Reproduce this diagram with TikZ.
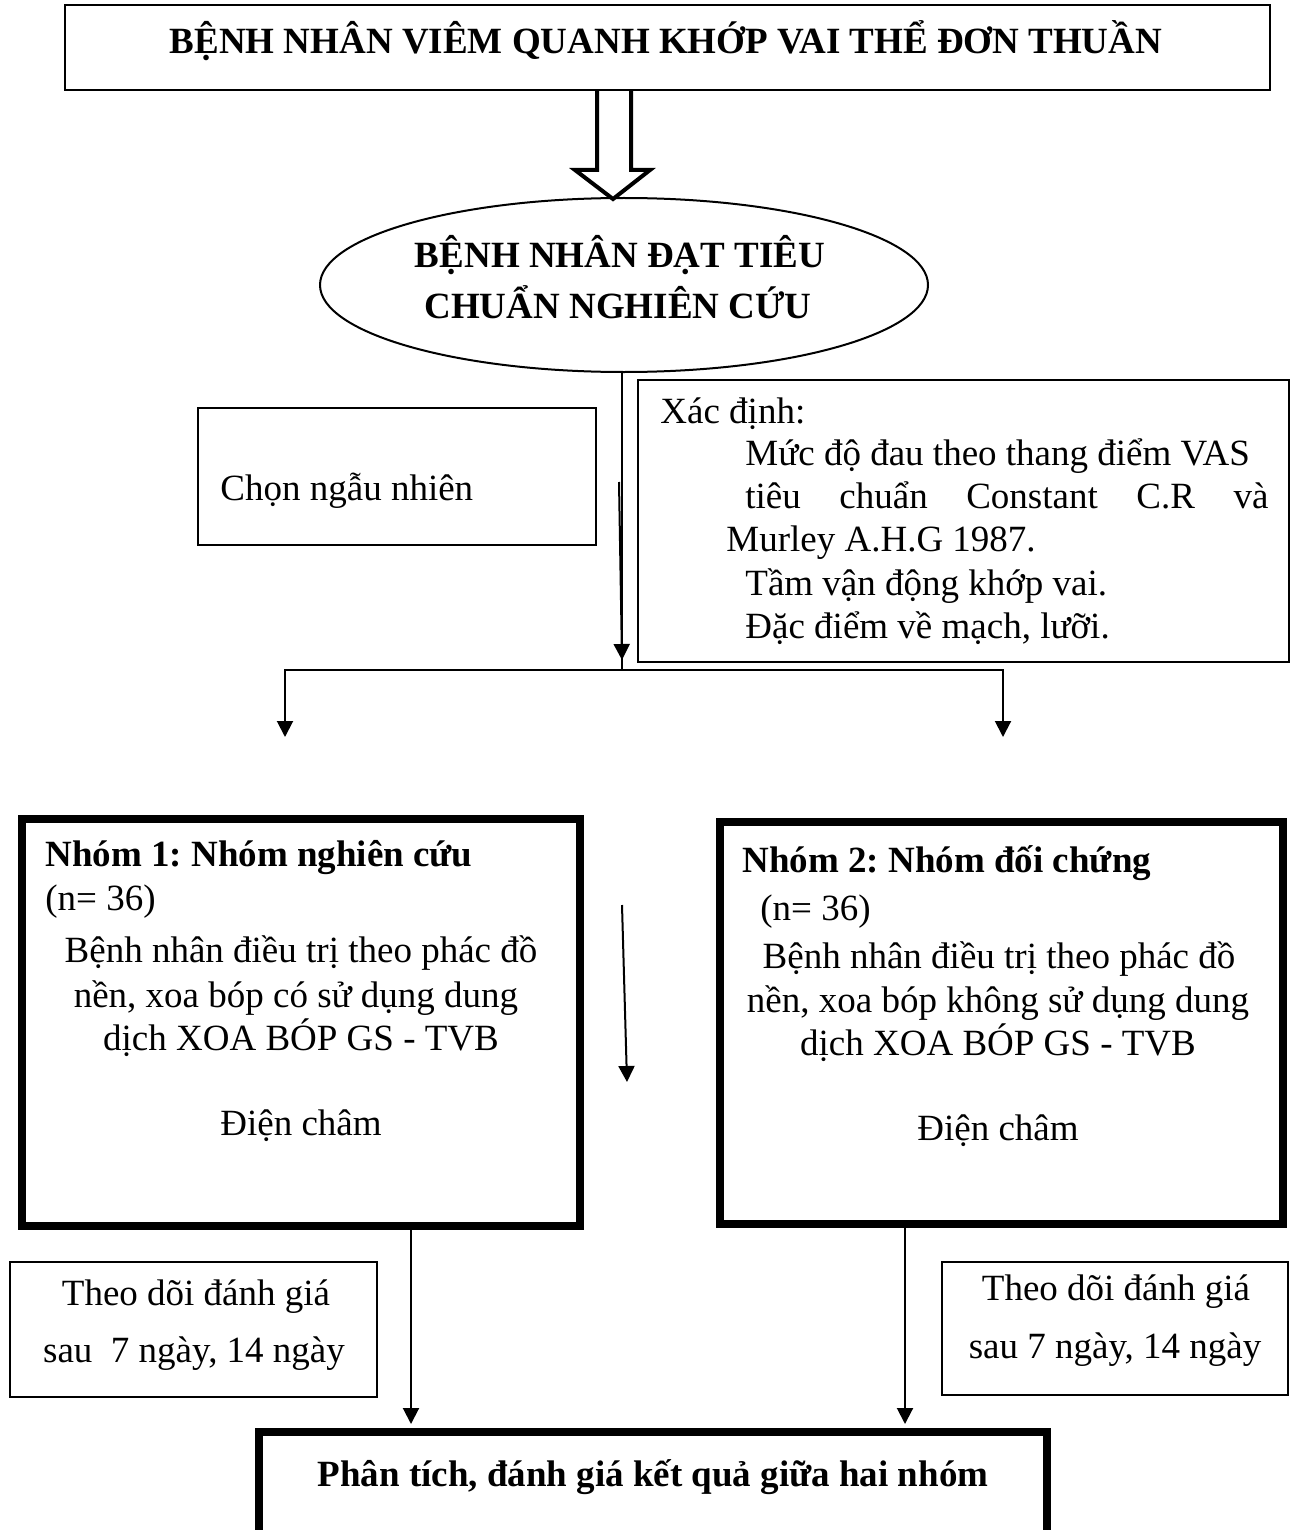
\documentclass[tikz,border=0pt]{standalone}
\usepackage{fontspec}
\setmainfont{Liberation Serif}
\usetikzlibrary{arrows.meta,shapes.geometric,fit}
\newcommand{\fsz}{\fontsize{18.5}{22}\selectfont}
\frenchspacing
\begin{document}
\begin{tikzpicture}[x=0.5pt,y=-0.5pt,
  thinbox/.style={draw,line width=1pt,inner sep=0pt},
  thickbox/.style={draw,line width=4pt,inner sep=0pt},
  txt/.style={inner sep=0pt,font=\fsz},
  btxt/.style={inner sep=0pt,font=\fsz\bfseries},
  conn/.style={line width=1pt},
  arr/.style={line width=1pt,-{Triangle[width=8pt,length=8pt]}},
  blockarrow/.style={line width=2pt,line join=miter}]
\useasboundingbox (0,0) rectangle (1295,1530);
\clip (0,0) rectangle (1295,1530);
\fill[white] (0,0) rectangle (1295,1530);

% top box
\node[thinbox,fit={(65,5)(1270,90)}] (top) {};
\node[btxt,anchor=base] (toptxt) at (666,54) {BỆNH NHÂN VIÊM QUANH KHỚP VAI THỂ ĐƠN THUẦN};

% block arrow
\draw[blockarrow] (597,90) -- (597,170) -- (575,170) -- (613,199) -- (650,170) -- (631,170) -- (631,90);

% ellipse
\node[draw,ellipse,line width=1pt,minimum width=304pt,minimum height=87pt,inner sep=0pt] (crit) at (624,285) {};
\node[btxt,anchor=base] (crit1) at (620,268) {BỆNH NHÂN ĐẠT TIÊU};
\node[btxt,anchor=base] (crit2) at (618,318) {CHUẨN NGHIÊN CỨU};

% random box
\node[thinbox,fit={(198,408)(596,545)}] (rand) {};
\node[txt,anchor=base west] (randtxt) at (220,500) {Chọn ngẫu nhiên};

% define box
\node[thinbox,fit={(638,380)(1289,662)}] (def) {};
\node[txt,anchor=base west] (d1) at (660,423) {Xác định:};
\node[txt,anchor=base west] (d2) at (745,465) {Mức độ đau theo thang điểm VAS};
\node[txt,anchor=base west,text width=261.5pt] (d3) at (745,508) {tiêu\hfill chuẩn\hfill Constant\hfill C.R\hfill và};
\node[txt,anchor=base west] (d4) at (726,551) {Murley A.H.G 1987.};
\node[txt,anchor=base west] (d5) at (745,595) {Tầm vận động khớp vai.};
\node[txt,anchor=base west] (d6) at (745,638) {Đặc điểm về mạch, lưỡi.};

% split connectors
\coordinate (split) at (622,670);
\coordinate (lt) at (285,737);
\coordinate (rt) at (1003,737);
\draw[conn] (split |- crit.south) -- (split);
\draw[arr] (split) -| (lt);
\draw[arr] (split) -| (rt);
\coordinate (a1s) at (619,482);
\coordinate (a1e) at (622,660);
\draw[arr] (a1s) -- (a1e);

% group 1
\node[thickbox,fit={(22,819)(580,1226)}] (g1) {};
\node[btxt,anchor=base west] (g1a) at (45,866) {Nhóm 1: Nhóm nghiên cứu};
\node[txt,anchor=base west] (g1b) at (45,910) {(n= 36)};
\node[txt,anchor=base] (g1c) at (301,962) {Bệnh nhân điều trị theo phác đồ};
\node[txt,anchor=base] (g1d) at (296,1007) {nền, xoa bóp có sử dụng dung};
\node[txt,anchor=base] (g1e) at (301,1050) {dịch XOA BÓP GS - TVB};
\node[txt,anchor=base] (g1f) at (301,1135) {Điện châm};

% group 2
\node[thickbox,fit={(720,822)(1283,1224)}] (g2) {};
\node[btxt,anchor=base west] (g2a) at (742,872) {Nhóm 2: Nhóm đối chứng};
\node[txt,anchor=base west] (g2b) at (760,920) {(n= 36)};
\node[txt,anchor=base] (g2c) at (999,968) {Bệnh nhân điều trị theo phác đồ};
\node[txt,anchor=base] (g2d) at (998,1012) {nền, xoa bóp không sử dụng dung};
\node[txt,anchor=base] (g2e) at (998,1055) {dịch XOA BÓP GS - TVB};
\node[txt,anchor=base] (g2f) at (998,1140) {Điện châm};

% middle arrow
\coordinate (a2s) at (622,905);
\coordinate (a2e) at (627,1082);
\draw[arr] (a2s) -- (a2e);

% follow-up boxes
\node[thinbox,fit={(10,1262)(377,1397)}] (f1) {};
\node[txt,anchor=base] (f1a) at (196,1305) {Theo dõi đánh giá};
\node[txt,anchor=base] (f1b) at (194,1362) {sau\ \ 7 ngày, 14 ngày};
\node[thinbox,fit={(942,1262)(1288,1395)}] (f2) {};
\node[txt,anchor=base] (f2a) at (1116,1300) {Theo dõi đánh giá};
\node[txt,anchor=base] (f2b) at (1115,1358) {sau 7 ngày, 14 ngày};

% final box
\node[thickbox,fit={(259,1432)(1047,1600)}] (fin) {};
\node[btxt,anchor=base] (fintxt) at (653,1486) {Phân tích, đánh giá kết quả giữa hai nhóm};

% to final
\coordinate (x1) at (411,0);
\coordinate (x2) at (905,0);
\draw[arr,shorten >=2pt] (g1.south -| x1) -- (fin.north -| x1);
\draw[arr,shorten >=2pt] (g2.south -| x2) -- (fin.north -| x2);
\end{tikzpicture}
\end{document}
